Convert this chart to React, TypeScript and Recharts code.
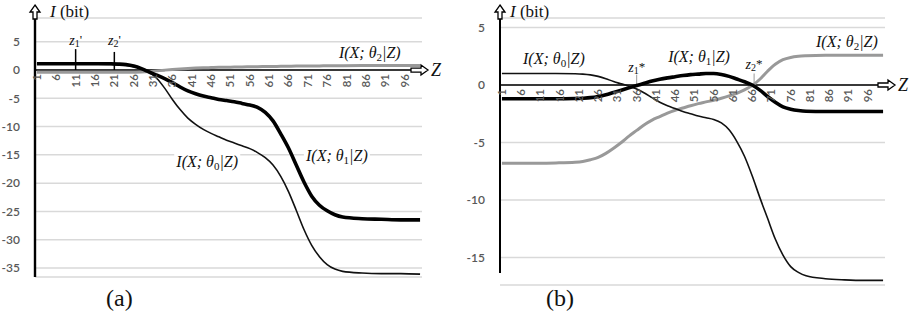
import React from 'react';
import { LineChart, Line, XAxis, YAxis, CartesianGrid, ReferenceLine, ReferenceDot } from 'recharts';

const Z_POINTS = [1, 5, 10, 15, 20, 22, 24, 26, 28, 30, 32, 34, 36, 38, 40, 42, 44, 46, 48, 50, 52, 54, 56, 58, 60, 62, 64, 66, 68, 70, 72, 74, 76, 78, 80, 85, 90, 95, 100];
const Z_TICKS = [1, 6, 11, 16, 21, 26, 31, 36, 41, 46, 51, 56, 61, 66, 71, 76, 81, 86, 91, 96];

// panel (a)
const A_THETA0 = [1.1, 1.1, 1.1, 1.05, 1.0, 0.95, 0.85, 0.6, 0.25, -0.4, -1.5, -3.2, -5.2, -7.0, -8.5, -9.6, -10.5, -11.2, -11.8, -12.4, -12.9, -13.4, -13.9, -14.6, -15.5, -16.8, -18.8, -21.5, -24.8, -28.2, -31.0, -33.0, -34.4, -35.2, -35.6, -35.9, -36.0, -36.0, -36.1];
const A_THETA1 = [1.1, 1.1, 1.1, 1.1, 1.1, 1.05, 0.95, 0.7, 0.25, -0.35, -0.9, -1.5, -2.2, -3.0, -3.7, -4.2, -4.6, -4.9, -5.2, -5.4, -5.6, -5.9, -6.2, -6.6, -7.5, -9.0, -11.3, -13.8, -16.8, -19.8, -22.3, -23.9, -24.9, -25.6, -26.0, -26.3, -26.4, -26.5, -26.5];
const A_THETA2 = [-0.4, -0.4, -0.4, -0.4, -0.4, -0.4, -0.4, -0.38, -0.35, -0.28, -0.15, -0.02, 0.1, 0.2, 0.28, 0.34, 0.39, 0.43, 0.47, 0.5, 0.52, 0.55, 0.57, 0.59, 0.61, 0.63, 0.65, 0.67, 0.69, 0.7, 0.72, 0.73, 0.74, 0.75, 0.76, 0.78, 0.79, 0.8, 0.8];
const A_Y_TICKS = [5, 0, -5, -10, -15, -20, -25, -30, -35];

// panel (b)
const B_THETA0 = [1.0, 1.0, 1.0, 1.0, 0.98, 0.95, 0.88, 0.75, 0.55, 0.3, 0.1, -0.1, -0.35, -0.7, -1.1, -1.5, -1.8, -2.05, -2.3, -2.5, -2.7, -2.85, -3.0, -3.3, -3.9, -4.9, -6.2, -7.9, -9.8, -11.6, -13.4, -14.8, -15.8, -16.3, -16.6, -16.85, -16.95, -17.0, -17.0];
const B_THETA1 = [-1.2, -1.2, -1.2, -1.2, -1.18, -1.15, -1.1, -1.0, -0.85, -0.65, -0.45, -0.25, -0.05, 0.15, 0.35, 0.5, 0.62, 0.72, 0.82, 0.9, 0.95, 1.0, 1.0, 0.92, 0.75, 0.52, 0.28, 0.0, -0.45, -1.0, -1.5, -1.9, -2.1, -2.22, -2.28, -2.3, -2.3, -2.3, -2.3];
const B_THETA2 = [-6.8, -6.8, -6.8, -6.78, -6.72, -6.65, -6.5, -6.3, -5.95, -5.5, -5.0, -4.45, -3.95, -3.45, -3.05, -2.75, -2.45, -2.2, -2.0, -1.8, -1.62, -1.47, -1.32, -1.15, -0.95, -0.72, -0.42, -0.05, 0.5, 1.2, 1.8, 2.2, 2.4, 2.5, 2.55, 2.6, 2.6, 2.6, 2.6];
const B_Y_TICKS = [5, 0, -5, -10, -15];

const SERIF = '"Liberation Serif", "Times New Roman", serif';
const SANS = 'Lato, "Liberation Sans", sans-serif';

const dataA = Z_POINTS.map((z, i) => ({ z, t0: A_THETA0[i], t1: A_THETA1[i], t2: A_THETA2[i] }));
const dataB = Z_POINTS.map((z, i) => ({ z, t0: B_THETA0[i], t1: B_THETA1[i], t2: B_THETA2[i] }));

// I(X; θk|Z) text, centred on the anchor, baseline at cy
const mathLabel = (sub: string, bg: boolean) => (p: any) => (
    <g>
        {bg && <rect x={p.cx - 33} y={p.cy - 14} width={66} height={19} fill="#fff" />}
        <text x={p.cx} y={p.cy} textAnchor="middle" fontFamily={SERIF} fontStyle="italic" fontSize={16} fill="#111">
            I(X; θ
            <tspan fontSize={11} fontStyle="normal" dy={3}>{sub}</tspan>
            <tspan dy={-3}>|Z)</tspan>
        </text>
    </g>
);

const zMark = (sub: string, mark: string) => (p: any) => (
    <text x={p.cx} y={p.cy} textAnchor="middle" fontFamily={SERIF} fontStyle="italic" fontSize={14} fill="#111">
        z<tspan fontSize={10} fontStyle="normal" dy={2}>{sub}</tspan>
        <tspan dy={-3} fontStyle="normal" fontSize={13}>{mark}</tspan>
    </text>
);

const zTick = (label: number) => (p: any) => (
    <text x={p.cx} y={p.cy} transform={`rotate(-90 ${p.cx} ${p.cy})`} dx={-4} dy={4}
        textAnchor="end" fontFamily={SANS} fontSize={11.5} fontWeight={600} fill="#595959">{label}</text>
);

// hollow arrow at the top of the y axis, plus the "I (bit)" title
const yArrow = (gap: number) => (p: any) => {
    const x = p.cx, t = p.cy - 13;
    return (
        <g>
            <path d={`M${x},${t} L${x + 5},${t + 7} L${x + 2},${t + 7} L${x + 2},${t + 14} L${x - 2},${t + 14} L${x - 2},${t + 7} L${x - 5},${t + 7} Z`}
                fill="#fff" stroke="#000" strokeWidth={1.3} />
            <text x={x + gap} y={p.cy - 1} fontFamily={SERIF} fontSize={17} fill="#111">
                <tspan fontStyle="italic">I</tspan> (bit)
            </text>
        </g>
    );
};

// hollow arrow at the right end of the zero line, plus "Z"
const xArrow = (ahead: number) => (p: any) => {
    const tip = p.cx + ahead, y = p.cy;
    return (
        <g>
            <path d={`M${tip},${y} L${tip - 7},${y - 5} L${tip - 7},${y - 2} L${tip - 17},${y - 2} L${tip - 17},${y + 2} L${tip - 7},${y + 2} L${tip - 7},${y + 5} Z`}
                fill="#fff" stroke="#000" strokeWidth={1.3} />
            <text x={tip + 3} y={y + 6} fontFamily={SERIF} fontStyle="italic" fontSize={18} fill="#111">Z</text>
        </g>
    );
};

interface PanelProps {
    data: any[];
    width: number;
    yWidth: number;
    margin: { top: number; right: number; bottom: number; left: number };
    domain: [number, number];
    axisBottom: number;
    yTicks: number[];
    axisWidth: number;
    arrowAhead: number;
    titleGap: number;
}

const renderPanel = (cfg: PanelProps, extras: React.ReactNode[]) => (
    <LineChart width={cfg.width} height={321} data={cfg.data} margin={cfg.margin}>
        <CartesianGrid horizontal vertical={false} stroke="#d9d9d9" strokeWidth={1.5} />
        <XAxis dataKey="z" type="number" domain={[0.5, 100.5]} hide allowDataOverflow />
        <YAxis domain={cfg.domain} ticks={cfg.yTicks} width={cfg.yWidth} allowDataOverflow interval={0}
            axisLine={false} tickLine={false} tickMargin={9}
            tick={{ fill: '#595959', fontSize: 12, fontFamily: SANS, fontWeight: 600 }} />
        {/* y axis line stops short of the plot bottom, curves may run below it */}
        <ReferenceLine segment={[{ x: 0.5, y: cfg.axisBottom }, { x: 0.5, y: cfg.domain[1] }]} stroke="#000" strokeWidth={cfg.axisWidth} ifOverflow="visible" />
        <ReferenceLine y={0} stroke="#000" strokeWidth={1.6} />
        {extras}
        <Line type="monotone" dataKey="t2" stroke="#999" strokeWidth={3} dot={false} isAnimationActive={false} />
        <Line type="monotone" dataKey="t0" stroke="#111" strokeWidth={1.6} dot={false} isAnimationActive={false} />
        <Line type="monotone" dataKey="t1" stroke="#000" strokeWidth={3.6} dot={false} isAnimationActive={false} />
        {Z_TICKS.map((t) => (
            <ReferenceDot key={'t' + t} x={t} y={0} r={1} ifOverflow="visible" shape={zTick(t)} />
        ))}
        <ReferenceDot x={0.5} y={cfg.domain[1]} r={1} ifOverflow="visible" shape={yArrow(cfg.titleGap)} />
        <ReferenceDot x={100.5} y={0} r={1} ifOverflow="visible" shape={xArrow(cfg.arrowAhead)} />
    </LineChart>
);

const App: React.FC = () => {
    const extrasA = [
        <ReferenceLine key="z1" segment={[{ x: 11, y: 0 }, { x: 11, y: 3.7 }]} stroke="#000" strokeWidth={1.5} />,
        <ReferenceLine key="z2" segment={[{ x: 21, y: 0 }, { x: 21, y: 3.2 }]} stroke="#000" strokeWidth={1.5} />,
        <ReferenceDot key="z1l" x={11} y={4.4} r={1} ifOverflow="visible" shape={zMark('1', "'")} />,
        <ReferenceDot key="z2l" x={21} y={4.4} r={1} ifOverflow="visible" shape={zMark('2', "'")} />,
        <ReferenceDot key="l2" x={87} y={2.2} r={1} ifOverflow="visible" shape={mathLabel('2', false)} />,
        <ReferenceDot key="l1" x={78.5} y={-16.1} r={1} ifOverflow="visible" shape={mathLabel('1', true)} />,
        <ReferenceDot key="l0" x={45} y={-17.1} r={1} ifOverflow="visible" shape={mathLabel('0', true)} />,
    ];
    const extrasB = [
        <ReferenceLine key="z1" segment={[{ x: 36, y: -0.1 }, { x: 36, y: 0.9 }]} stroke="#999" strokeWidth={1} />,
        <ReferenceLine key="z2" segment={[{ x: 66.5, y: 0 }, { x: 66.5, y: 1.0 }]} stroke="#999" strokeWidth={1} />,
        <ReferenceDot key="z1l" x={36} y={1.1} r={1} ifOverflow="visible" shape={zMark('1', '*')} />,
        <ReferenceDot key="z2l" x={66.5} y={1.4} r={1} ifOverflow="visible" shape={zMark('2', '*')} />,
        <ReferenceDot key="l0" x={14.5} y={1.85} r={1} ifOverflow="visible" shape={mathLabel('0', false)} />,
        <ReferenceDot key="l1" x={52.2} y={2.0} r={1} ifOverflow="visible" shape={mathLabel('1', false)} />,
        <ReferenceDot key="l2" x={90.6} y={3.3} r={1} ifOverflow="visible" shape={mathLabel('2', false)} />,
    ];

    return (
        <div style={{ position: 'absolute', left: 0, top: 0, width: 912, height: 321, background: '#fff', overflow: 'hidden' }}>
            <div style={{ position: 'absolute', left: 0, top: 0 }}>
                {renderPanel({
                    data: dataA, width: 460, yWidth: 35,
                    margin: { top: 18, right: 38, bottom: 44, left: 0 },
                    domain: [-36.6, 9.2], axisBottom: -36.6, yTicks: A_Y_TICKS, axisWidth: 2.4, arrowAhead: 6, titleGap: 15,
                }, extrasA)}
            </div>
            <div style={{ position: 'absolute', left: 456, top: 0 }}>
                {renderPanel({
                    data: dataB, width: 456, yWidth: 44,
                    margin: { top: 18, right: 27, bottom: 36, left: 0 },
                    domain: [-17.4, 5.83], axisBottom: -16.35, yTicks: B_Y_TICKS, axisWidth: 2, arrowAhead: 10, titleGap: 10,
                }, extrasB)}
            </div>
            <div style={{ position: 'absolute', left: 106, top: 285, fontFamily: SERIF, fontSize: 24, color: '#111' }}>(a)</div>
            <div style={{ position: 'absolute', left: 546, top: 285, fontFamily: SERIF, fontSize: 24, color: '#111' }}>(b)</div>
        </div>
    );
};

export default App;
